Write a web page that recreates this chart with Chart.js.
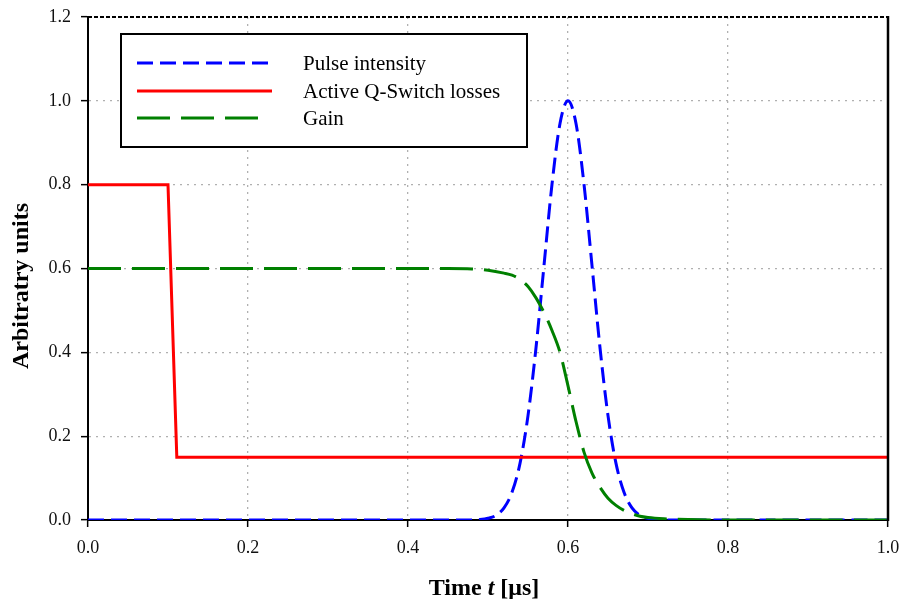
<!DOCTYPE html>
<html>
<head>
<meta charset="utf-8">
<script src="https://cdn.jsdelivr.net/npm/chart.js@4.4.0/dist/chart.umd.min.js"></script>
<style>
  body { margin: 0; background: #fff; }
  #wrap { width: 902px; height: 599px; position: relative; }
</style>
</head>
<body>
<div id="wrap"><canvas id="chartQ"></canvas></div>
<script>
// values
const pulseX = [0, 0.47, 0.48, 0.49, 0.50, 0.51, 0.52, 0.53, 0.54, 0.55, 0.56, 0.57, 0.58, 0.59, 0.60,
                0.61, 0.62, 0.63, 0.64, 0.65, 0.66, 0.67, 0.68, 0.69, 0.70, 0.71, 0.72, 0.73, 1.0];
const pulseY = [0, 0, 0, 0.001, 0.004, 0.011, 0.029, 0.066, 0.135, 0.249, 0.411, 0.607, 0.801, 0.946, 1.0,
                0.946, 0.801, 0.607, 0.411, 0.249, 0.135, 0.066, 0.029, 0.011, 0.004, 0.001, 0, 0, 0];

const lossX = [0, 0.1, 0.111, 1.0];
const lossY = [0.8, 0.8, 0.15, 0.15];

const gainX = [0, 0.40, 0.45, 0.48, 0.50, 0.52, 0.53, 0.54, 0.55, 0.56, 0.57, 0.58, 0.59, 0.60, 0.61,
               0.62, 0.63, 0.64, 0.65, 0.66, 0.67, 0.68, 0.69, 0.70, 0.72, 0.75, 0.80, 1.0];
const gainY = [0.6, 0.6, 0.6, 0.599, 0.596, 0.589, 0.584, 0.574, 0.557, 0.530, 0.495, 0.452, 0.40, 0.32, 0.235,
               0.162, 0.112, 0.078, 0.052, 0.035, 0.023, 0.015, 0.009, 0.006, 0.003, 0.001, 0, 0];

const xTicks = [0, 0.2, 0.4, 0.6, 0.8, 1.0];
const yTicks = [0, 0.2, 0.4, 0.6, 0.8, 1.0, 1.2];
const seriesNames = ['Pulse intensity', 'Active Q-Switch losses', 'Gain'];

function pts(xs, ys) {
  return xs.map((x, i) => ({ x: x, y: ys[i] }));
}

const serif = "'Liberation Serif', 'Times New Roman', serif";

// legend box, axis titles and the top/right frame
const extras = {
  id: 'extras',
  afterDraw(chart) {
    const ctx = chart.ctx;
    const a = chart.chartArea;
    ctx.save();
    // top frame: dashed
    ctx.strokeStyle = '#000';
    ctx.lineWidth = 2;
    ctx.setLineDash([4, 2]);
    ctx.beginPath();
    ctx.moveTo(a.left, a.top);
    ctx.lineTo(a.right, a.top);
    ctx.stroke();
    // right frame: solid
    ctx.setLineDash([]);
    ctx.lineWidth = 2.5;
    ctx.beginPath();
    ctx.moveTo(a.right, a.top - 1);
    ctx.lineTo(a.right, a.bottom + 1);
    ctx.stroke();

    // legend
    const bx = 121, by = 34, bw = 406, bh = 113;
    ctx.fillStyle = '#fff';
    ctx.fillRect(bx, by, bw, bh);
    ctx.lineWidth = 2;
    ctx.strokeStyle = '#000';
    ctx.strokeRect(bx, by, bw, bh);
    const rows = [63, 91, 118];
    const ends = [272, 272, 258];
    chart.data.datasets.forEach((ds, i) => {
      ctx.strokeStyle = ds.borderColor;
      ctx.lineWidth = ds.borderWidth;
      ctx.setLineDash(ds.borderDash || []);
      ctx.beginPath();
      ctx.moveTo(137, rows[i]);
      ctx.lineTo(ends[i], rows[i]);
      ctx.stroke();
      ctx.setLineDash([]);
      ctx.fillStyle = '#000';
      ctx.font = '21px ' + serif;
      ctx.textBaseline = 'alphabetic';
      ctx.textAlign = 'left';
      ctx.fillText(ds.label, 303, rows[i] + 6.5);
    });

    // x title with italic t
    ctx.fillStyle = '#000';
    ctx.textBaseline = 'alphabetic';
    ctx.textAlign = 'left';
    const parts = [['Time ', 'bold'], ['t', 'italic bold'], [' [μs]', 'bold']];
    let total = 0;
    parts.forEach(p => { ctx.font = p[1] + ' 24px ' + serif; total += ctx.measureText(p[0]).width; });
    let x = 484 - total / 2;
    parts.forEach(p => {
      ctx.font = p[1] + ' 24px ' + serif;
      ctx.fillText(p[0], x, 595);
      x += ctx.measureText(p[0]).width;
    });

    // y title
    ctx.translate(28, 286);
    ctx.rotate(-Math.PI / 2);
    ctx.textAlign = 'center';
    ctx.font = 'bold 24px ' + serif;
    ctx.fillText('Arbitratry units', 0, 0);
    ctx.restore();
  }
};

const ctxQ = document.getElementById('chartQ');
new Chart(ctxQ, {
  type: 'line',
  data: {
    datasets: [
      {
        label: seriesNames[0],
        data: pts(pulseX, pulseY),
        borderColor: '#0000ff',
        borderWidth: 3,
        borderDash: [16, 7],
        cubicInterpolationMode: 'monotone',
        pointRadius: 0,
        order: 3
      },
      {
        label: seriesNames[1],
        data: pts(lossX, lossY),
        borderColor: '#ff0000',
        borderWidth: 3,
        tension: 0,
        pointRadius: 0,
        order: 2
      },
      {
        label: seriesNames[2],
        data: pts(gainX, gainY),
        borderColor: '#008000',
        borderWidth: 3,
        borderDash: [33, 11],
        cubicInterpolationMode: 'monotone',
        pointRadius: 0,
        order: 1
      }
    ]
  },
  options: {
    responsive: true,
    maintainAspectRatio: false,
    animation: false,
    layout: { padding: { top: 17, right: 14, left: 0, bottom: 0 } },
    plugins: {
      legend: { display: false },
      tooltip: { enabled: false }
    },
    scales: {
      x: {
        type: 'linear',
        min: 0,
        max: 1,
        afterBuildTicks: s => { s.ticks = xTicks.map(v => ({ value: v })); },
        afterFit: s => { s.height = 79; s.paddingLeft = 0; s.paddingRight = 0; },
        ticks: {
          color: '#111',
          padding: 10,
          font: { family: serif, size: 18 },
          callback: v => v.toFixed(1)
        },
        grid: {
          color: c => (c.tick && (c.tick.value < 0.01 || c.tick.value > 0.99)) ? 'rgba(0,0,0,0)' : '#b0b0b0',
          lineWidth: 1.3,
          tickLength: 7,
          tickColor: '#000',
          tickWidth: 1.5,
          tickBorderDash: []
        },
        border: { color: '#000', width: 2, dash: [2, 5] }
      },
      y: {
        type: 'linear',
        min: 0,
        max: 1.2,
        afterBuildTicks: s => { s.ticks = yTicks.map(v => ({ value: v })); },
        afterFit: s => { s.width = 88; s.paddingTop = 0; s.paddingBottom = 0; },
        ticks: {
          color: '#111',
          padding: 10,
          font: { family: serif, size: 18 },
          callback: v => v.toFixed(1)
        },
        grid: {
          color: c => (c.tick && (c.tick.value < 0.01 || c.tick.value > 1.19)) ? 'rgba(0,0,0,0)' : '#b0b0b0',
          lineWidth: 1.3,
          tickLength: 7,
          tickColor: '#000',
          tickWidth: 1.5,
          tickBorderDash: []
        },
        border: { color: '#000', width: 2, dash: [2, 5] }
      }
    }
  },
  plugins: [extras]
});
</script>
</body>
</html>
